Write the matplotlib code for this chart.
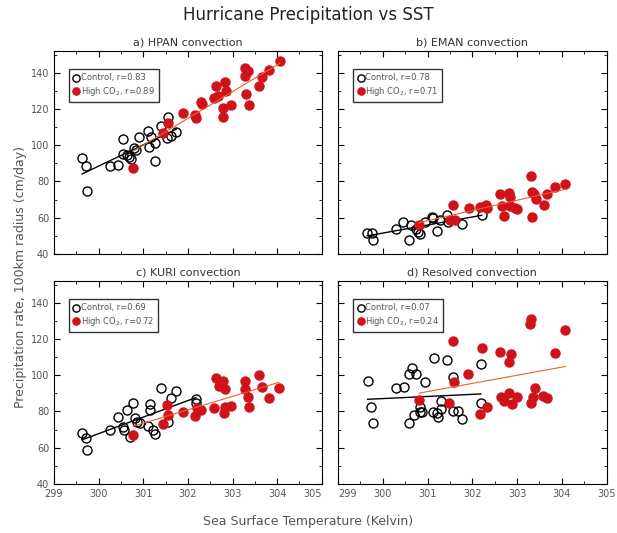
import numpy as np
import matplotlib
matplotlib.use("Agg")
import matplotlib.pyplot as plt
from matplotlib.ticker import MultipleLocator

# a) HPAN
a_ctl_x = [299.63, 299.72, 299.75, 300.25, 300.44, 300.55, 300.55, 300.63, 300.68, 300.72, 300.79, 300.83,
           300.90, 301.11, 301.12, 301.17, 301.26, 301.27, 301.39, 301.53, 301.56, 301.63, 301.74]
a_ctl_y = [92.8, 88.5, 74.8, 88.7, 89.1, 103.6, 95.0, 94.6, 93.7, 92.4, 98.3, 97.4,
           104.5, 108.0, 99.2, 104.4, 101.0, 91.3, 110.6, 103.8, 115.8, 104.9, 107.1]
a_co2_x = [300.77, 301.45, 301.56, 301.88, 302.15, 302.18, 302.29, 302.32, 302.58, 302.62, 302.68, 302.79,
           302.79, 302.83, 302.86, 302.97, 303.27, 303.35, 303.29, 303.31, 303.37, 303.59, 303.65, 303.82, 304.06]
a_co2_y = [87.3, 106.6, 112.1, 118.0, 116.7, 114.8, 124.0, 122.6, 125.9, 132.7, 127.2, 120.4,
           115.4, 134.7, 129.9, 122.2, 142.8, 141.1, 138.2, 128.3, 122.0, 132.7, 137.8, 141.5, 146.5]

# b) EMAN
b_ctl_x = [299.65, 299.75, 299.79, 300.29, 300.46, 300.59, 300.63, 300.74, 300.79, 300.84, 300.94, 301.09,
           301.13, 301.22, 301.28, 301.43, 301.46, 301.78, 302.21]
b_ctl_y = [51.4, 51.8, 47.7, 53.8, 57.9, 47.7, 56.0, 53.6, 52.3, 51.0, 57.9, 60.6,
           59.7, 52.9, 58.8, 61.5, 57.9, 56.4, 61.5]
b_co2_x = [300.81, 301.50, 301.57, 301.61, 301.92, 302.18, 302.30, 302.32, 302.62, 302.66, 302.71, 302.82,
           302.84, 302.84, 302.95, 303.01, 303.31, 303.34, 303.37, 303.34, 303.42, 303.60, 303.66, 303.84, 304.08]
b_co2_y = [56.0, 58.8, 67.0, 58.8, 65.6, 66.1, 67.0, 65.6, 73.1, 66.7, 61.2, 73.5,
           71.3, 66.7, 65.2, 64.6, 83.2, 74.2, 73.1, 60.6, 70.3, 67.0, 73.1, 77.1, 78.4]

# c) KURI
c_ctl_x = [299.63, 299.72, 299.75, 300.25, 300.44, 300.55, 300.57, 300.63, 300.70, 300.76, 300.81, 300.85,
           300.92, 301.11, 301.15, 301.16, 301.22, 301.26, 301.39, 301.56, 301.63, 301.74, 302.18, 302.18]
c_ctl_y = [68.0, 65.6, 58.8, 69.8, 76.8, 71.3, 69.8, 80.8, 66.1, 84.5, 76.6, 74.4,
           73.8, 72.0, 80.8, 84.1, 69.8, 67.6, 93.1, 74.4, 87.3, 91.5, 86.7, 84.5]
c_co2_x = [300.77, 301.45, 301.53, 301.56, 301.88, 302.15, 302.21, 302.30, 302.59, 302.62, 302.70, 302.79,
           302.83, 302.80, 302.83, 302.97, 303.27, 303.27, 303.35, 303.37, 303.59, 303.65, 303.82, 304.04]
c_co2_y = [67.0, 73.1, 83.6, 78.1, 79.9, 77.7, 81.7, 80.8, 81.7, 98.3, 94.0, 97.0,
           92.2, 79.0, 82.7, 83.0, 97.0, 92.2, 87.8, 82.3, 100.1, 93.7, 87.3, 92.8]

# d) Resolved
d_ctl_x = [299.66, 299.74, 299.79, 300.29, 300.47, 300.58, 300.58, 300.66, 300.74, 300.70, 300.82, 300.83,
           300.87, 300.94, 301.13, 301.15, 301.20, 301.24, 301.29, 301.31, 301.43, 301.57, 301.57, 301.69,
           301.78, 302.19, 302.19]
d_ctl_y = [97.0, 82.3, 73.5, 93.1, 93.7, 73.5, 100.7, 103.8, 100.7, 78.1, 79.9, 82.3,
           79.9, 96.1, 79.9, 109.3, 79.3, 76.8, 86.0, 81.2, 108.4, 98.8, 80.5, 80.5,
           75.9, 106.2, 84.9]
d_co2_x = [300.81, 301.48, 301.57, 301.59, 301.91, 302.17, 302.22, 302.33, 302.62, 302.65, 302.71, 302.82,
           302.82, 302.86, 302.88, 302.99, 303.29, 303.31, 303.32, 303.36, 303.40, 303.58, 303.66, 303.84, 304.08]
d_co2_y = [86.3, 84.9, 119.1, 96.4, 100.5, 78.6, 114.8, 82.3, 113.0, 87.8, 85.8, 90.0,
           107.5, 111.7, 84.1, 88.2, 128.3, 131.0, 84.5, 87.8, 92.8, 88.5, 87.3, 112.1, 125.0]

titles = ["a) HPAN convection", "b) EMAN convection", "c) KURI convection", "d) Resolved convection"]
r_ctl = ["0.83", "0.78", "0.69", "0.07"]
r_co2 = ["0.89", "0.71", "0.72", "0.24"]
panels = [(a_ctl_x, a_ctl_y, a_co2_x, a_co2_y), (b_ctl_x, b_ctl_y, b_co2_x, b_co2_y),
          (c_ctl_x, c_ctl_y, c_co2_x, c_co2_y), (d_ctl_x, d_ctl_y, d_co2_x, d_co2_y)]

fig = plt.figure(figsize=(6.17, 5.33), dpi=100)
rects = [[0.0875, 0.5235, 0.434, 0.381], [0.548, 0.5235, 0.435, 0.381],
         [0.0875, 0.092, 0.434, 0.381], [0.548, 0.092, 0.435, 0.381]]
grey = "#555555"

for i in range(4):
    ax = fig.add_axes(rects[i])
    cx, cy, hx, hy = [np.array(v) for v in panels[i]]
    ax.plot(cx, cy, "o", mfc="none", mec="black", mew=1.0, ms=6.5, label="Control, r=" + r_ctl[i], zorder=3)
    ax.plot(hx, hy, "o", mfc="#d0121b", mec="#d0121b", ms=6.5, label="High CO$_2$, r=" + r_co2[i], zorder=4)
    p = np.polyfit(cx, cy, 1)
    xs = np.array([cx.min(), cx.max()])
    ax.plot(xs, np.polyval(p, xs), color="black", lw=1.0, zorder=2)
    p = np.polyfit(hx, hy, 1)
    xs = np.array([hx.min(), hx.max()])
    ax.plot(xs, np.polyval(p, xs), color="#e8602c", lw=0.8, zorder=5)

    ax.set_xlim(299, 305)
    ax.set_ylim(40, 152)
    ax.set_xticks([299, 300, 301, 302, 303, 304, 305])
    ax.xaxis.set_minor_locator(MultipleLocator(0.5))
    ax.yaxis.set_minor_locator(MultipleLocator(10))
    ax.set_yticks([40, 60, 80, 100, 120, 140])
    ax.tick_params(which="both", direction="in", top=True, right=True, labelsize=7, labelcolor=grey)
    ax.tick_params(which="major", length=4)
    ax.tick_params(which="minor", length=2)
    if i < 2:
        ax.set_xticklabels([])
    else:
        labs = ax.set_xticklabels(["299", "300", "301", "302", "303", "304", "305"])
        if i == 2:
            labs[-1].set_horizontalalignment("right")
            labs[-1].set_x(305.05)
        else:
            labs[0].set_horizontalalignment("left")
    if i % 2 == 1:
        ax.set_yticklabels([])
    ax.set_title(titles[i], fontsize=8, color="#333333", pad=4)
    leg = ax.legend(loc="upper left", fontsize=6, frameon=True, fancybox=False, handletextpad=0.1,
                    borderpad=0.5, handlelength=0.8, labelspacing=0.3, bbox_to_anchor=(0.04, 0.93),
                    labelcolor=grey, markerscale=0.8)
    leg.get_frame().set_edgecolor("black")
    leg.get_frame().set_linewidth(1.0)

fig.text(0.5, 0.962, "Hurricane Precipitation vs SST", ha="center", fontsize=12, color="#222222")
fig.text(0.5, 0.015, "Sea Surface Temperature (Kelvin)", ha="center", fontsize=9, color=grey)
fig.text(0.022, 0.48, "Precipitation rate, 100km radius (cm/day)", va="center", rotation=90,
         fontsize=9, color=grey)

fig.savefig("out.png", dpi=100)
